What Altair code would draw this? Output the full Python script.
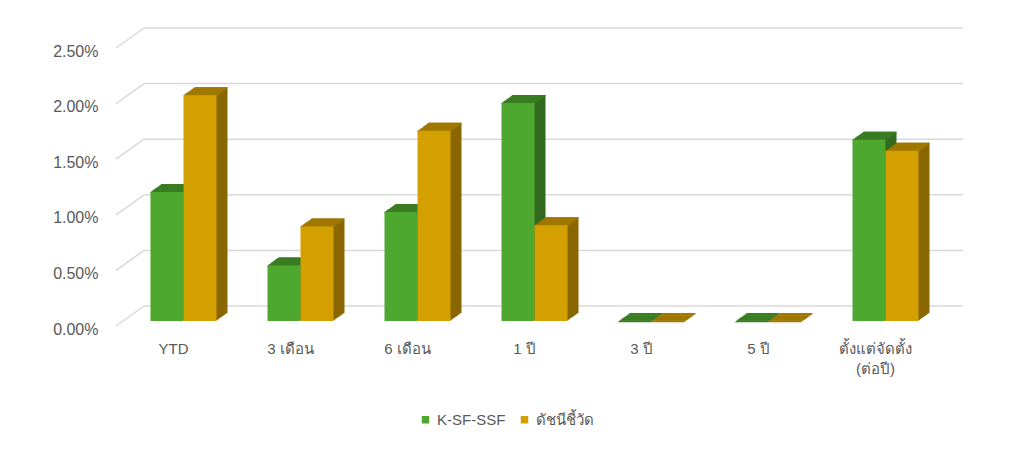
import altair as alt
import pandas as pd

categories = ["YTD", "3 เดือน", "6 เดือน", "1 ปี", "3 ปี", "5 ปี", "ตั้งแต่จัดตั้ง|(ต่อปี)"]
series_names = ["K-SF-SSF", "ดัชนีชี้วัด"]
fund_values = [0.0116, 0.0050, 0.0098, 0.0196, 0.0, 0.0, 0.0163]
bench_values = [0.0203, 0.0085, 0.0171, 0.0086, 0.0, 0.0, 0.0153]
grid_values = [0.0, 0.005, 0.010, 0.015, 0.020, 0.025]

front_colors = ["#4EA72E", "#D4A000"]
top_colors = ["#3B7D23", "#A07800"]
side_colors = ["#336A1E", "#8A6700"]

rows = []
for c, f, b in zip(categories, fund_values, bench_values):
    rows.append({"cat": c, "series": series_names[0], "v": f})
    rows.append({"cat": c, "series": series_names[1], "v": b})
df = pd.DataFrame(rows)
gdf = pd.DataFrame({"g": grid_values})

W, H = 819, 278
BAR = 33
DX, DY, N = 11, 8, 11
FONT = "'Liberation Sans', Arial, sans-serif"

x_axis = alt.Axis(title=None, labelAngle=0, domain=False, ticks=False, tickSize=0, grid=False,
                  labelFontSize=15, labelColor="#595959", labelFont=FONT,
                  labelPadding=20, labelOffset=-10, labelLineHeight=20,
                  labelExpr="split(datum.label, '|')")
y_axis = alt.Axis(title=None, format=".2%", values=grid_values, domain=False, ticks=False,
                  tickSize=0, grid=False, labelFontSize=16, labelColor="#595959",
                  labelFont=FONT, labelPadding=27, labelOffset=8)
x_scale = alt.Scale(paddingInner=0, paddingOuter=0)
y_scale = alt.Scale(domain=[0, 0.025], nice=False, zero=True)

def X():
    return alt.X("cat:N", sort=categories, scale=x_scale, axis=x_axis)

def Y(field="v"):
    return alt.Y(f"{field}:Q", scale=y_scale, axis=y_axis)

base = alt.Chart(df)

layers = []
layers.append(
    alt.Chart(gdf).mark_rule(color="#D9D9D9", strokeWidth=1.5, yOffset=-15)
    .encode(y=Y("g"), x=alt.value(19), x2=alt.value(838))
)
layers.append(
    alt.Chart(gdf).mark_rule(color="#D9D9D9", strokeWidth=1.5, yOffset=5, y2Offset=-15)
    .encode(y=Y("g"), y2=alt.Y2("g"), x=alt.value(-9), x2=alt.value(19))
)

for i, s in enumerate(series_names):
    shift = -BAR / 2 if i == 0 else BAR / 2
    sub = base.transform_filter(alt.datum.series == s)
    for k in range(N, 0, -1):
        layers.append(
            sub.mark_bar(color=side_colors[i], width=BAR, xOffset=shift + DX * k / N,
                         yOffset=-DY * k / N, y2Offset=-DY * k / N)
            .encode(x=X(), y=Y())
        )
    for k in range(N, -1, -1):
        layers.append(
            sub.mark_bar(color=top_colors[i], width=BAR, xOffset=shift + DX * k / N,
                         yOffset=-DY * k / N, y2Offset=-DY * k / N + 1.3)
            .encode(x=X(), y=Y(), y2=alt.Y2("v"))
        )
    layers.append(
        sub.mark_bar(width=BAR, xOffset=shift)
        .encode(
            x=X(), y=Y(),
            color=alt.Color("series:N", scale=alt.Scale(domain=series_names, range=front_colors),
                            legend=alt.Legend(title=None, orient="none", legendX=293, legendY=369,
                                              direction="horizontal", symbolType="square",
                                              symbolSize=56, symbolStrokeWidth=0,
                                              labelFontSize=15, labelColor="#595959",
                                              labelFont=FONT, columnPadding=11, labelOffset=4)),
        )
    )

chart = alt.layer(*layers).properties(
    width=W, height=H,
    padding={"left": 117, "top": 35, "right": 60, "bottom": 110},
    autosize=alt.AutoSizeParams(type="none"),
).configure(background="white").configure_view(strokeWidth=0, stroke="transparent")

chart.save("out.html", embed_options={"renderer": "svg", "actions": False})
